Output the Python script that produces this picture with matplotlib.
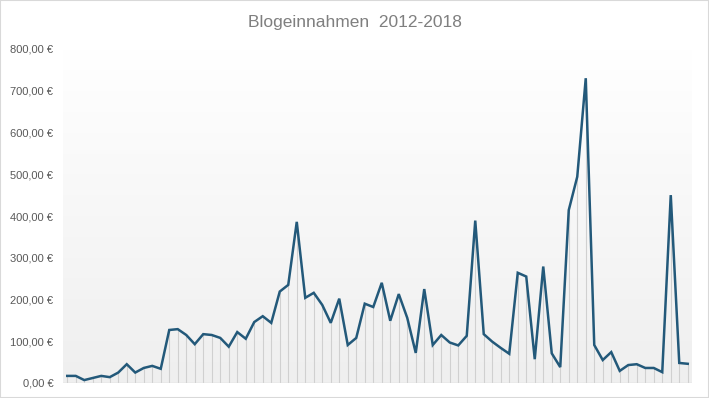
import numpy as np
import matplotlib
matplotlib.use('Agg')
import matplotlib.pyplot as plt
from matplotlib.patches import Rectangle

einnahmen = [17, 17, 7, 12, 17, 14, 25, 45, 25, 36,
             41, 34, 127, 129, 115, 93, 117, 115, 108, 87,
             122, 106, 146, 160, 144, 219, 235, 386, 204, 216,
             187, 144, 202, 91, 108, 190, 182, 240, 149, 213,
             156, 72, 225, 91, 115, 97, 90, 113, 389, 117,
             99, 84, 70, 264, 255, 57, 279, 71, 38, 414,
             494, 730, 91, 55, 74, 29, 43, 45, 36, 36,
             26, 450, 48, 46]
y_ticks = [0, 100, 200, 300, 400, 500, 600, 700, 800]
y_labels = [f"{v},00 €" for v in y_ticks]
titel = 'Blogeinnahmen  2012-2018'

plt.rcParams['font.family'] = ['Liberation Sans', 'DejaVu Sans']

fig = plt.figure(figsize=(7.09, 3.98), dpi=100)
fig.patches.append(Rectangle((0, 0), 1, 1, transform=fig.transFigure,
                             fill=False, edgecolor='#d9d9d9', linewidth=1.5))

ax = fig.add_axes([63 / 709, 15 / 398, 629 / 709, 334 / 398])
x = np.arange(len(einnahmen))

# Hintergrundverlauf: oben weiß, unten hellgrau
verlauf = np.linspace(0.0, 1.0, 256).reshape(-1, 1)
ax.imshow(verlauf, extent=[-0.5, len(einnahmen) - 0.5, 0, 800], aspect='auto',
          cmap=matplotlib.colors.LinearSegmentedColormap.from_list('bg', ['#ffffff', '#efefef']),
          vmin=0, vmax=1, zorder=0)

ax.vlines(x, 0, einnahmen, color='#d0d0d0', linewidth=0.8, zorder=1)
ax.plot(x, einnahmen, color='#23597a', linewidth=1.8, zorder=3,
        solid_joinstyle='miter')
ax.axhline(0, color='#d9d9d9', linewidth=1, zorder=2)

ax.set_xlim(-0.5, len(einnahmen) - 0.5)
ax.set_ylim(0, 800)
ax.set_yticks(y_ticks)
ax.set_yticklabels(y_labels, fontsize=8, color='#595959')
ax.set_xticks([])
ax.tick_params(axis='y', length=0, pad=7)
for s in ax.spines.values():
    s.set_visible(False)

fig.text(0.5, 1 - 22 / 398, titel, ha='center', va='center',
         fontsize=12.5, color='#7f7f7f')

plt.savefig('out.png', dpi=100)
plt.close()
